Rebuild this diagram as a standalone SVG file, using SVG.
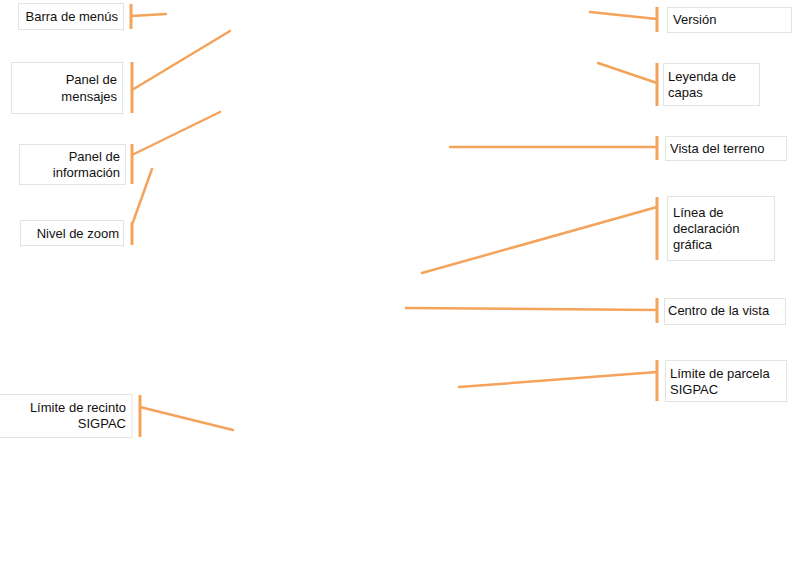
<svg xmlns="http://www.w3.org/2000/svg" width="792" height="570" viewBox="0 0 792 570">
<style>
.box{fill:#fff;stroke:#e3e3e3;stroke-width:1}
.br{stroke:#f4a35a;stroke-width:3;fill:none}
.ln{stroke:#f4a35a;stroke-width:2.5;fill:none;stroke-linecap:round}
text{font-family:"Liberation Sans",Arial,sans-serif;font-size:13px;fill:#111}
.r{text-anchor:end}
</style>
<rect width="792" height="570" fill="#fff"/>
<g id="connectors">
<line class="ln" x1="131" y1="16" x2="166" y2="14"/>
<line class="ln" x1="132" y1="90" x2="230" y2="31"/>
<line class="ln" x1="132" y1="155" x2="220" y2="112"/>
<line class="ln" x1="133" y1="222" x2="152" y2="169"/>
<line class="ln" x1="140" y1="407" x2="233" y2="430"/>
<line class="ln" x1="590" y1="12" x2="657" y2="19"/>
<line class="ln" x1="598" y1="63" x2="657" y2="83"/>
<line class="ln" x1="450" y1="147" x2="657" y2="147"/>
<line class="ln" x1="422" y1="273" x2="657" y2="207"/>
<line class="ln" x1="406" y1="308" x2="657" y2="310"/>
<line class="ln" x1="459" y1="387" x2="657" y2="372"/>
</g>
<g id="barra">
<rect class="box" x="18.5" y="3.5" width="105" height="26"/>
<line class="br" x1="131" y1="4" x2="131" y2="29"/>
<text class="r" x="118" y="21">Barra de menús</text>
</g>
<g id="mensajes">
<rect class="box" x="11.5" y="62.5" width="111" height="51"/>
<line class="br" x1="132" y1="62" x2="132" y2="113"/>
<text class="r" x="117" y="84">Panel de</text>
<text class="r" x="117" y="101">mensajes</text>
</g>
<g id="informacion">
<rect class="box" x="19.5" y="144.5" width="106" height="40"/>
<line class="br" x1="132" y1="144" x2="132" y2="184"/>
<text class="r" x="120" y="161">Panel de</text>
<text class="r" x="120" y="177">información</text>
</g>
<g id="zoom">
<rect class="box" x="20.5" y="220.5" width="103" height="25"/>
<line class="br" x1="132" y1="222" x2="132" y2="245"/>
<text class="r" x="119" y="238">Nivel de zoom</text>
</g>
<g id="recinto">
<rect class="box" x="-1" y="394.5" width="133" height="43"/>
<line class="br" x1="140" y1="395" x2="140" y2="437"/>
<text class="r" x="126" y="412">Límite de recinto</text>
<text class="r" x="126" y="428">SIGPAC</text>
</g>
<g id="version">
<rect class="box" x="667.5" y="7.5" width="124" height="25"/>
<line class="br" x1="657" y1="7" x2="657" y2="32"/>
<text x="673" y="24">Versión</text>
</g>
<g id="leyenda">
<rect class="box" x="663.5" y="63.5" width="96" height="42"/>
<line class="br" x1="657" y1="63" x2="657" y2="106"/>
<text x="668" y="81">Leyenda de</text>
<text x="668" y="97">capas</text>
</g>
<g id="terreno">
<rect class="box" x="665.5" y="136.5" width="121" height="24"/>
<line class="br" x1="657" y1="136" x2="657" y2="160"/>
<text x="670" y="153">Vista del terreno</text>
</g>
<g id="declaracion">
<rect class="box" x="667.5" y="196.5" width="107" height="64"/>
<line class="br" x1="657" y1="197" x2="657" y2="260"/>
<text x="673" y="217">Línea de</text>
<text x="673" y="233">declaración</text>
<text x="673" y="249">gráfica</text>
</g>
<g id="centro">
<rect class="box" x="664.5" y="298.5" width="121" height="26"/>
<line class="br" x1="657" y1="298" x2="657" y2="323"/>
<text x="668" y="315">Centro de la vista</text>
</g>
<g id="parcela">
<rect class="box" x="665.5" y="360.5" width="121" height="41"/>
<line class="br" x1="657" y1="360" x2="657" y2="401"/>
<text x="670" y="378">Límite de parcela</text>
<text x="670" y="394">SIGPAC</text>
</g>
</svg>
